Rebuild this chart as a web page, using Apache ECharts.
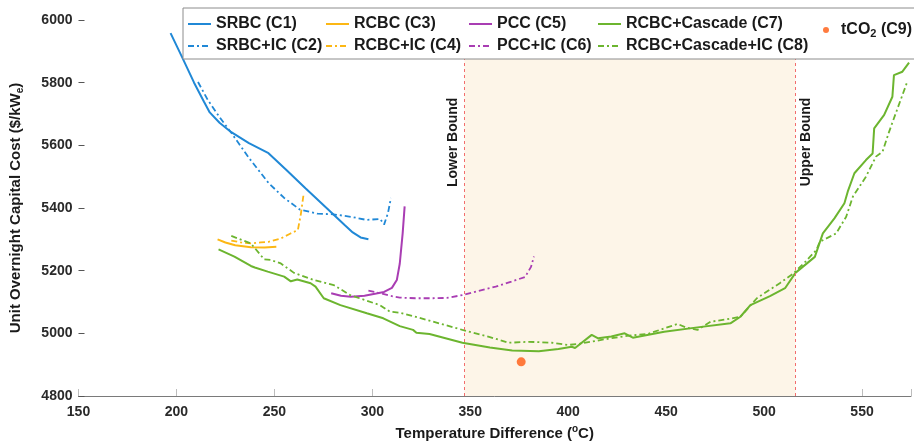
<!DOCTYPE html>
<html>
<head>
<meta charset="utf-8">
<script src="https://cdn.jsdelivr.net/npm/echarts@6/dist/echarts.min.js"></script>
<style>
  html, body { margin: 0; padding: 0; background: #fff; }
  #chart { width: 914px; height: 447px; }
</style>
</head>
<body>
<div id="chart"></div>
<script>
// [temperature difference (oC), unit overnight capital cost ($/kWe)]
const srbc = [[197,5958],[203,5880],[209,5800],[214,5740],[217,5705],[222,5672],[228,5642],[237,5607],[247,5575],[256,5522],[266,5462],[278,5392],[286,5345],[290,5322],[294,5306],[298,5300]]
const srbcIC = [[211,5802],[216,5745],[222,5690],[228,5640],[237,5560],[247,5480],[255,5432],[263,5395],[272,5382],[280,5380],[290,5371],[297,5362],[304,5365],[306,5347],[308,5384],[309.5,5432]]
const rcbc = [[221,5300],[225,5290],[230,5281],[238,5275],[245,5274],[251,5276]]
const rcbcIC = [[228,5296],[233,5290],[238,5287],[243,5290],[247,5292],[253,5302],[258,5318],[262,5330],[263.5,5380],[265,5448]]
const pcc = [[279,5128],[284,5120],[289,5117],[296,5120],[302,5127],[306,5132],[310,5145],[312.5,5170],[314,5222],[315.5,5320],[316.5,5405]]
const pccIC = [[298,5136],[304,5128],[309,5120],[314,5114],[322,5112],[331,5112],[338,5113],[346,5122],[354,5135],[363,5149],[371,5165],[378,5180],[381,5212],[382.5,5245]]
const cascade = [[221.5,5268],[229.6,5245],[238,5215],[240,5210],[246.6,5197],[255,5181],[258.4,5166],[261.7,5172],[268.5,5160],[271,5149],[275.2,5112],[283.7,5090],[297.2,5064],[305.6,5048],[314,5023],[320.8,5011],[322.5,5002],[329.2,4998],[346,4970],[360,4955],[371.4,4945],[385,4943],[395,4950],[401.8,4957],[403.5,4953],[412,4995],[415.3,4984],[422,4990],[428.8,5000],[433,4986],[449,5005],[466,5019],[482.8,5032],[487.9,5053],[493,5090],[503,5119],[510.7,5144],[516,5193],[525.9,5244],[530,5319],[535.9,5367],[541,5415],[542.7,5452],[546.1,5511],[552,5553],[555.4,5574],[556.2,5654],[561.3,5697],[565.5,5755],[566.3,5824],[570.6,5835],[574,5864]]
const cascadeIC = [[228,5311],[238,5287],[244.8,5236],[248.2,5234],[253.3,5223],[260,5193],[270.2,5170],[280.3,5154],[288.7,5122],[303.9,5090],[309,5069],[314,5066],[320.8,5055],[330,5039],[346,5011],[360,4988],[369.7,4970],[380,4973],[391.6,4970],[400,4963],[405,4966],[418.7,4981],[430,4992],[440.6,4998],[455.8,5030],[460,5019],[466,5011],[472.7,5037],[481.1,5045],[487.9,5053],[496.3,5112],[508,5160],[514.9,5191],[521,5228],[526.7,5266],[528.4,5292],[536.8,5319],[541.9,5372],[545.3,5436],[552,5500],[557.1,5564],[560.5,5580],[563.8,5643],[567.2,5702],[570.6,5760],[573.1,5803]]
const tco2 = [[376,4909]]

const bounds = [347, 516]
const xTicks = [150, 575, 50]
const yTicks = [4800, 6000, 200]

const font = 'Liberation Sans'
const solid = { width: 2 }
const dashDot = { width: 1.8, type: [6, 3, 2, 3] }

const lineSeries = (name, data, color, style) => ({
  name: name,
  type: 'line',
  data: data,
  symbol: 'none',
  z: 3,
  itemStyle: { color: color },
  lineStyle: Object.assign({ color: color }, style)
})

const boundLabel = (x, text, pos) => [
  { coord: [x, yTicks[0]], lineStyle: { color: 'rgba(0,0,0,0)', width: 0 },
    label: { show: true, formatter: text, position: pos, distance: 4,
      fontFamily: font, fontWeight: 'bold', fontSize: 14, color: '#1a1a1a' } },
  { coord: [x, 5765] }
]

const legendCol = (left, names, extra) => Object.assign({
  orient: 'vertical',
  left: left,
  top: 16,
  padding: 0,
  itemGap: 6,
  itemWidth: 23,
  itemHeight: 18,
  z: 20,
  data: names,
  itemStyle: { color: 'rgba(0,0,0,0)', borderWidth: 0 },
  textStyle: {
    fontFamily: font, fontWeight: 'bold', fontSize: 16, color: '#1a1a1a',
    rich: {
      t: { fontFamily: font, fontWeight: 'bold', fontSize: 16, color: '#1a1a1a', lineHeight: 18, padding: [0, 0, 0, 7] },
      u: { fontFamily: font, fontWeight: 'bold', fontSize: 16, color: '#1a1a1a', lineHeight: 18 },
      s: { fontFamily: font, fontWeight: 'bold', fontSize: 11, color: '#1a1a1a', lineHeight: 8, verticalAlign: 'bottom' }
    }
  }
}, extra)

const chart = echarts.init(document.getElementById('chart'), null, { renderer: 'canvas' })

const option = {
  animation: false,
  backgroundColor: '#fff',
  grid: { left: 76, right: 0, top: 20, bottom: 51 },
  graphic: [{
    type: 'rect',
    z: 10,
    shape: { x: 183, y: 8, width: 740, height: 51 },
    style: { fill: '#fff', stroke: '#8c8c8c', lineWidth: 1 }
  }],
  legend: [
    legendCol(187, ['SRBC (C1)', 'SRBC+IC (C2)']),
    legendCol(325, ['RCBC (C3)', 'RCBC+IC (C4)']),
    legendCol(468, ['PCC (C5)', 'PCC+IC (C6)']),
    legendCol(597, ['RCBC+Cascade (C7)', 'RCBC+Cascade+IC (C8)']),
    legendCol(823, [{ name: 'tCO2 (C9)', icon: 'circle' }], {
      itemWidth: 6, itemHeight: 6, top: 22,
      itemStyle: { color: '#ff5a0f' },
      formatter: () => '{t|tCO}{s|2}{u| (C9)}'
    })
  ],
  xAxis: {
    type: 'value',
    min: xTicks[0],
    max: xTicks[1],
    interval: xTicks[2],
    name: '{t|Temperature Difference (}{p|o}{t|C)}',
    nameLocation: 'middle',
    nameGap: 25,
    nameTextStyle: {
      rich: {
        t: { fontFamily: font, fontWeight: 'bold', fontSize: 15, color: '#1a1a1a', lineHeight: 20 },
        p: { fontFamily: font, fontWeight: 'bold', fontSize: 10, color: '#1a1a1a', lineHeight: 10, verticalAlign: 'top' }
      }
    },
    axisLine: { lineStyle: { color: '#7a7a7a', width: 1 } },
    axisTick: { inside: true, length: 7, lineStyle: { color: '#bdbdbd' } },
    axisLabel: {
      margin: 9,
      fontFamily: font, fontWeight: 'bold', fontSize: 14, color: '#2a2a2a',
      formatter: v => (v % 50 === 0 ? String(v) : '')
    },
    splitLine: { show: false }
  },
  yAxis: {
    type: 'value',
    min: yTicks[0],
    max: yTicks[1],
    interval: yTicks[2],
    name: '{t|Unit Overnight Capital Cost ($/kW}{s|e}{t|)}',
    nameLocation: 'middle',
    nameGap: 53,
    nameTextStyle: {
      rich: {
        t: { fontFamily: font, fontWeight: 'bold', fontSize: 15, color: '#1a1a1a', lineHeight: 20 },
        s: { fontFamily: font, fontWeight: 'bold', fontSize: 10, color: '#1a1a1a', lineHeight: 10, verticalAlign: 'bottom' }
      }
    },
    axisLine: { show: false },
    axisTick: { show: true, inside: true, length: 6, lineStyle: { color: '#555' } },
    axisLabel: {
      margin: 6, fontFamily: font, fontWeight: 'bold', fontSize: 14, color: '#2a2a2a',
      formatter: v => String(v)
    },
    splitLine: { show: false }
  },
  series: [
    {
      name: 'bounds',
      type: 'line',
      data: [],
      z: 1,
      markArea: {
        silent: true,
        itemStyle: { color: '#fdf5e8' },
        data: [[{ xAxis: bounds[0] }, { xAxis: bounds[1] }]]
      },
      markLine: {
        silent: true,
        symbol: 'none',
        lineStyle: { color: '#f26d6d', width: 1, type: [3, 3] },
        label: { show: false },
        data: [
          [{ coord: [bounds[0], yTicks[0]] }, { coord: [bounds[0], yTicks[1]] }],
          [{ coord: [bounds[1], yTicks[0]] }, { coord: [bounds[1], yTicks[1]] }],
          boundLabel(bounds[0], 'Lower Bound', 'insideEndTop'),
          boundLabel(bounds[1], 'Upper Bound', 'insideEndBottom')
        ]
      }
    },
    lineSeries('SRBC (C1)', srbc, '#2088d6', solid),
    lineSeries('SRBC+IC (C2)', srbcIC, '#2088d6', dashDot),
    lineSeries('RCBC (C3)', rcbc, '#fcb714', solid),
    lineSeries('RCBC+IC (C4)', rcbcIC, '#fcb714', dashDot),
    lineSeries('PCC (C5)', pcc, '#a93db3', solid),
    lineSeries('PCC+IC (C6)', pccIC, '#a93db3', dashDot),
    lineSeries('RCBC+Cascade (C7)', cascade, '#6cb52f', solid),
    lineSeries('RCBC+Cascade+IC (C8)', cascadeIC, '#6cb52f', dashDot),
    {
      name: 'tCO2 (C9)',
      type: 'scatter',
      data: tco2,
      symbol: 'circle',
      symbolSize: 9,
      z: 4,
      itemStyle: { color: '#ff5a0f' }
    }
  ]
}

chart.setOption(option)
</script>
</body>
</html>
